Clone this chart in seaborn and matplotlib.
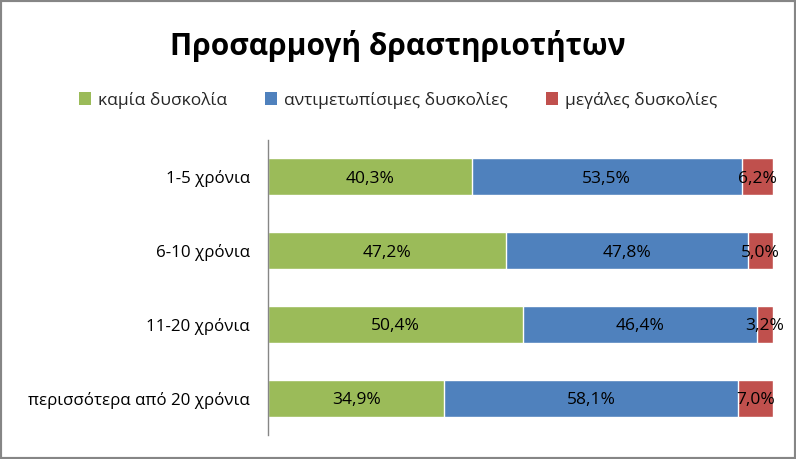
import pandas as pd
import numpy as np
import seaborn as sns
import matplotlib.pyplot as plt
from matplotlib.patches import Patch, Rectangle

# Data
groups = ['1-5 χρόνια', '6-10 χρόνια', '11-20 χρόνια', 'περισσότερα από 20 χρόνια']
series = ['καμία δυσκολία', 'αντιμετωπίσιμες δυσκολίες', 'μεγάλες δυσκολίες']
none_vals = [40.3, 47.2, 50.4, 34.9]
manageable_vals = [53.5, 47.8, 46.4, 58.1]
major_vals = [6.2, 5.0, 3.2, 7.0]
colors = ['#9BBB59', '#4F81BD', '#C0504D']

df = pd.DataFrame({'group': groups,
                   series[0]: none_vals,
                   series[1]: manageable_vals,
                   series[2]: major_vals})
cum = df[series].cumsum(axis=1)

sns.set_theme(style='white')
plt.rcParams['font.family'] = ['Open Sans', 'DejaVu Sans']

fig = plt.figure(figsize=(7.96, 4.59), dpi=100)
ax = fig.add_axes([0.3367, 0.0523, 0.6344, 0.6427])

# stacked bars: draw cumulative totals, widest first
for s, c in zip(series[::-1], colors[::-1]):
    sns.barplot(x=cum[s], y=df['group'], color=c, width=0.5,
                errorbar=None, saturation=1, ax=ax)

# value labels in the middle of each segment
for s in series:
    mids = cum[s] - df[s] / 2
    for i, (m, v) in enumerate(zip(mids, df[s])):
        ax.text(m, i, f'{v:.1f}%'.replace('.', ','), ha='center',
                va='center_baseline', fontsize=12.5, color='black')

ax.set_xlim(0, 100)
ax.set_xlabel('')
ax.set_ylabel('')
ax.set_xticks([])
ax.tick_params(axis='y', length=0, pad=13, labelsize=12.2, labelcolor='black')
for side in ['top', 'right', 'bottom']:
    ax.spines[side].set_visible(False)
ax.spines['left'].set_color('#868686')
ax.spines['left'].set_linewidth(1)

fig.suptitle('Προσαρμογή δραστηριοτήτων', y=0.935, fontsize=21.5,
             fontweight='bold', color='black')

handles = [Patch(facecolor=c, edgecolor='none') for c in colors]
fig.legend(handles, series, loc='center', bbox_to_anchor=(0.5, 0.782),
           ncol=3, frameon=False, fontsize=12.5, handlelength=0.7,
           handleheight=0.7, handletextpad=0.4, columnspacing=2.2)

# outer frame
fig.patches.append(Rectangle((0, 0), 1, 1, transform=fig.transFigure,
                             fill=False, edgecolor='#868686', linewidth=3))

fig.savefig('out.png', dpi=100)
